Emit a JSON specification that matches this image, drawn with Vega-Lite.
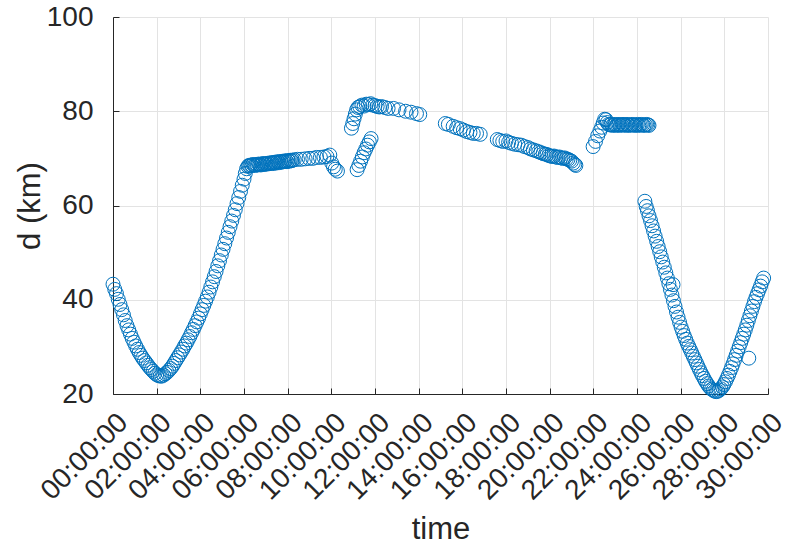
{
  "$schema": "https://vega.github.io/schema/vega-lite/v6.json",
  "autosize": {"type": "none"},
  "padding": {"left": 113, "top": 17, "right": 20, "bottom": 156},
  "width": 655,
  "height": 377,
  "background": "white",
  "config": {
    "view": {"stroke": null},
    "font": "Liberation Sans",
    "axis": {
      "domainColor": "#262626",
      "domainWidth": 1,
      "tickColor": "#262626",
      "tickSize": -6,
      "tickWidth": 1,
      "gridColor": "#e3e3e3",
      "gridWidth": 1,
      "labelColor": "#262626",
      "titleColor": "#262626",
      "labelFont": "Liberation Sans",
      "titleFont": "Liberation Sans",
      "labelFontSize": 28,
      "titleFontSize": 31,
      "titleFontWeight": "normal",
      "labelOverlap": false,
      "labelBound": false,
      "labelFlush": false
    }
  },
  "data": {
    "values": [
      {"time": 0.00, "d": 43.3}, {"time": 0.08, "d": 42.2}, {"time": 0.16, "d": 41.3}, {"time": 0.24, "d": 40.1},
      {"time": 0.32, "d": 39.0}, {"time": 0.40, "d": 37.9}, {"time": 0.48, "d": 36.8}, {"time": 0.56, "d": 35.6},
      {"time": 0.64, "d": 34.5}, {"time": 0.72, "d": 33.6}, {"time": 0.80, "d": 32.7}, {"time": 0.88, "d": 31.8},
      {"time": 0.96, "d": 31.0}, {"time": 1.04, "d": 30.2}, {"time": 1.12, "d": 29.5}, {"time": 1.20, "d": 28.8},
      {"time": 1.28, "d": 28.2}, {"time": 1.36, "d": 27.6}, {"time": 1.44, "d": 27.1}, {"time": 1.52, "d": 26.6},
      {"time": 1.60, "d": 26.1}, {"time": 1.68, "d": 25.6}, {"time": 1.76, "d": 25.2}, {"time": 1.84, "d": 24.8},
      {"time": 1.92, "d": 24.4}, {"time": 2.00, "d": 24.1}, {"time": 2.08, "d": 23.9}, {"time": 2.16, "d": 23.8},
      {"time": 2.24, "d": 23.8}, {"time": 2.32, "d": 24.0}, {"time": 2.40, "d": 24.3}, {"time": 2.48, "d": 24.6},
      {"time": 2.56, "d": 25.0}, {"time": 2.64, "d": 25.4}, {"time": 2.72, "d": 25.9}, {"time": 2.80, "d": 26.5},
      {"time": 2.88, "d": 27.1}, {"time": 2.96, "d": 27.7}, {"time": 3.04, "d": 28.3}, {"time": 3.12, "d": 28.9},
      {"time": 3.20, "d": 29.5}, {"time": 3.28, "d": 30.2}, {"time": 3.36, "d": 30.8}, {"time": 3.44, "d": 31.5},
      {"time": 3.52, "d": 32.2}, {"time": 3.60, "d": 33.0}, {"time": 3.68, "d": 33.7}, {"time": 3.76, "d": 34.5},
      {"time": 3.84, "d": 35.3}, {"time": 3.92, "d": 36.1}, {"time": 4.00, "d": 37.0}, {"time": 4.08, "d": 37.9},
      {"time": 4.16, "d": 38.8}, {"time": 4.24, "d": 39.7}, {"time": 4.32, "d": 40.6}, {"time": 4.40, "d": 41.6},
      {"time": 4.48, "d": 42.7}, {"time": 4.56, "d": 43.8}, {"time": 4.64, "d": 44.9}, {"time": 4.72, "d": 46.0},
      {"time": 4.80, "d": 47.2}, {"time": 4.88, "d": 48.3}, {"time": 4.96, "d": 49.5}, {"time": 5.04, "d": 50.7},
      {"time": 5.12, "d": 51.9}, {"time": 5.20, "d": 53.1}, {"time": 5.28, "d": 54.3}, {"time": 5.36, "d": 55.5},
      {"time": 5.44, "d": 56.7}, {"time": 5.52, "d": 57.9}, {"time": 5.60, "d": 59.1}, {"time": 5.68, "d": 60.4},
      {"time": 5.76, "d": 61.7}, {"time": 5.84, "d": 63.0}, {"time": 5.92, "d": 64.3}, {"time": 6.00, "d": 65.6},
      {"time": 6.06, "d": 66.8}, {"time": 6.12, "d": 67.8}, {"time": 6.18, "d": 68.3},
      {"time": 6.22, "d": 68.5}, {"time": 6.27, "d": 68.4}, {"time": 6.32, "d": 68.6}, {"time": 6.37, "d": 68.5},
      {"time": 6.42, "d": 68.7}, {"time": 6.47, "d": 68.6}, {"time": 6.52, "d": 68.5}, {"time": 6.57, "d": 68.7},
      {"time": 6.62, "d": 68.6}, {"time": 6.67, "d": 68.8}, {"time": 6.72, "d": 68.7}, {"time": 6.77, "d": 68.6},
      {"time": 6.82, "d": 68.8}, {"time": 6.87, "d": 68.9}, {"time": 6.92, "d": 68.7}, {"time": 6.97, "d": 68.8},
      {"time": 7.02, "d": 68.9}, {"time": 7.07, "d": 68.8}, {"time": 7.12, "d": 69.0}, {"time": 7.17, "d": 68.9},
      {"time": 7.22, "d": 69.0}, {"time": 7.27, "d": 69.1}, {"time": 7.32, "d": 68.9}, {"time": 7.37, "d": 69.1},
      {"time": 7.42, "d": 69.2}, {"time": 7.47, "d": 69.0}, {"time": 7.52, "d": 69.2}, {"time": 7.57, "d": 69.3},
      {"time": 7.62, "d": 69.1}, {"time": 7.67, "d": 69.3}, {"time": 7.72, "d": 69.2}, {"time": 7.77, "d": 69.4},
      {"time": 7.82, "d": 69.3}, {"time": 7.87, "d": 69.4}, {"time": 7.92, "d": 69.5}, {"time": 7.97, "d": 69.3},
      {"time": 8.02, "d": 69.5}, {"time": 8.07, "d": 69.4}, {"time": 8.12, "d": 69.6}, {"time": 8.17, "d": 69.5},
      {"time": 8.22, "d": 69.6}, {"time": 8.30, "d": 69.7}, {"time": 8.45, "d": 69.8}, {"time": 8.62, "d": 69.8},
      {"time": 8.80, "d": 69.9}, {"time": 8.98, "d": 70.0}, {"time": 9.15, "d": 70.0}, {"time": 9.32, "d": 70.2},
      {"time": 9.50, "d": 70.2}, {"time": 9.66, "d": 70.3}, {"time": 9.80, "d": 70.4}, {"time": 9.93, "d": 70.7},
      {"time": 10.02, "d": 69.0}, {"time": 10.10, "d": 68.2}, {"time": 10.18, "d": 67.7}, {"time": 10.28, "d": 67.3},
      {"time": 10.92, "d": 76.4}, {"time": 10.98, "d": 77.4}, {"time": 11.04, "d": 78.4}, {"time": 11.10, "d": 79.4},
      {"time": 11.16, "d": 80.3}, {"time": 11.22, "d": 80.8}, {"time": 11.30, "d": 81.0}, {"time": 11.40, "d": 81.3},
      {"time": 11.50, "d": 81.1}, {"time": 11.60, "d": 81.5}, {"time": 11.70, "d": 81.4}, {"time": 11.80, "d": 81.6},
      {"time": 11.90, "d": 81.3}, {"time": 12.00, "d": 81.2}, {"time": 12.10, "d": 81.0}, {"time": 12.20, "d": 80.9},
      {"time": 12.30, "d": 81.0}, {"time": 12.45, "d": 80.8}, {"time": 12.60, "d": 80.6}, {"time": 12.85, "d": 80.6},
      {"time": 13.10, "d": 80.3}, {"time": 13.40, "d": 80.0}, {"time": 13.65, "d": 79.8}, {"time": 13.90, "d": 79.5},
      {"time": 14.05, "d": 79.3},
      {"time": 11.18, "d": 67.6}, {"time": 11.26, "d": 68.5}, {"time": 11.34, "d": 69.4}, {"time": 11.42, "d": 70.3},
      {"time": 11.50, "d": 71.2}, {"time": 11.58, "d": 72.0}, {"time": 11.66, "d": 72.8}, {"time": 11.74, "d": 73.5},
      {"time": 11.82, "d": 74.2},
      {"time": 15.22, "d": 77.4}, {"time": 15.36, "d": 77.2}, {"time": 15.58, "d": 76.8}, {"time": 15.74, "d": 76.5},
      {"time": 15.90, "d": 76.3}, {"time": 16.05, "d": 76.0}, {"time": 16.20, "d": 75.7}, {"time": 16.35, "d": 75.5},
      {"time": 16.50, "d": 75.3}, {"time": 16.65, "d": 75.3}, {"time": 16.82, "d": 75.1},
      {"time": 17.60, "d": 74.0}, {"time": 17.72, "d": 73.8}, {"time": 17.85, "d": 73.6}, {"time": 18.00, "d": 73.7},
      {"time": 18.12, "d": 73.4}, {"time": 18.25, "d": 73.2}, {"time": 18.40, "d": 73.0}, {"time": 18.55, "d": 72.9},
      {"time": 18.70, "d": 72.8}, {"time": 18.85, "d": 72.5}, {"time": 19.00, "d": 72.3}, {"time": 19.12, "d": 72.0},
      {"time": 19.25, "d": 71.8}, {"time": 19.38, "d": 71.6}, {"time": 19.50, "d": 71.4}, {"time": 19.60, "d": 71.2},
      {"time": 19.70, "d": 71.0}, {"time": 19.80, "d": 70.9}, {"time": 19.88, "d": 70.8}, {"time": 19.96, "d": 70.6},
      {"time": 20.04, "d": 70.5}, {"time": 20.12, "d": 70.4}, {"time": 20.20, "d": 70.5}, {"time": 20.28, "d": 70.3},
      {"time": 20.36, "d": 70.2}, {"time": 20.44, "d": 70.3}, {"time": 20.52, "d": 70.1}, {"time": 20.60, "d": 70.0},
      {"time": 20.68, "d": 70.1}, {"time": 20.76, "d": 69.9}, {"time": 20.84, "d": 69.8}, {"time": 20.92, "d": 69.6},
      {"time": 21.00, "d": 69.4}, {"time": 21.08, "d": 69.0}, {"time": 21.15, "d": 68.7}, {"time": 21.20, "d": 68.5},
      {"time": 21.99, "d": 72.5}, {"time": 22.10, "d": 73.6}, {"time": 22.20, "d": 74.8}, {"time": 22.30, "d": 75.8},
      {"time": 22.38, "d": 76.6}, {"time": 22.45, "d": 77.5}, {"time": 22.52, "d": 78.3}, {"time": 22.58, "d": 78.2},
      {"time": 22.64, "d": 77.6}, {"time": 22.70, "d": 77.2}, {"time": 22.76, "d": 77.1}, {"time": 22.82, "d": 77.2},
      {"time": 22.88, "d": 77.0}, {"time": 22.94, "d": 77.1}, {"time": 23.00, "d": 77.2}, {"time": 23.06, "d": 77.0},
      {"time": 23.12, "d": 77.1}, {"time": 23.18, "d": 77.2}, {"time": 23.24, "d": 77.0}, {"time": 23.30, "d": 77.1},
      {"time": 23.36, "d": 77.2}, {"time": 23.42, "d": 77.1}, {"time": 23.48, "d": 77.0}, {"time": 23.54, "d": 77.2},
      {"time": 23.60, "d": 77.1}, {"time": 23.66, "d": 77.0}, {"time": 23.72, "d": 77.1}, {"time": 23.78, "d": 77.2},
      {"time": 23.84, "d": 77.1}, {"time": 23.90, "d": 77.0}, {"time": 23.96, "d": 77.1}, {"time": 24.02, "d": 77.2},
      {"time": 24.08, "d": 77.0}, {"time": 24.14, "d": 77.1}, {"time": 24.20, "d": 77.2}, {"time": 24.26, "d": 77.1},
      {"time": 24.32, "d": 77.0}, {"time": 24.38, "d": 77.1}, {"time": 24.44, "d": 77.2}, {"time": 24.50, "d": 77.1},
      {"time": 24.55, "d": 77.0},
      {"time": 24.36, "d": 60.9}, {"time": 24.42, "d": 59.8}, {"time": 24.48, "d": 58.9}, {"time": 24.55, "d": 57.8},
      {"time": 24.62, "d": 56.8}, {"time": 24.69, "d": 55.7}, {"time": 24.76, "d": 54.6}, {"time": 24.83, "d": 53.5},
      {"time": 24.90, "d": 52.4}, {"time": 24.97, "d": 51.3}, {"time": 25.04, "d": 50.2}, {"time": 25.11, "d": 49.1},
      {"time": 25.18, "d": 48.0}, {"time": 25.25, "d": 46.9}, {"time": 25.32, "d": 45.7}, {"time": 25.39, "d": 44.6},
      {"time": 25.46, "d": 43.4}, {"time": 25.53, "d": 42.2}, {"time": 25.60, "d": 41.0}, {"time": 25.67, "d": 39.8},
      {"time": 25.74, "d": 38.6}, {"time": 25.81, "d": 37.4}, {"time": 25.88, "d": 36.3}, {"time": 25.95, "d": 35.2},
      {"time": 26.02, "d": 34.2}, {"time": 26.09, "d": 33.3}, {"time": 26.16, "d": 32.4}, {"time": 26.23, "d": 31.6},
      {"time": 26.30, "d": 30.8}, {"time": 26.37, "d": 30.1}, {"time": 26.44, "d": 29.4}, {"time": 26.51, "d": 28.7},
      {"time": 26.58, "d": 28.0}, {"time": 26.65, "d": 27.3}, {"time": 26.72, "d": 26.6}, {"time": 26.79, "d": 25.9},
      {"time": 26.86, "d": 25.2}, {"time": 26.93, "d": 24.5}, {"time": 27.00, "d": 23.9}, {"time": 27.07, "d": 23.3},
      {"time": 27.14, "d": 22.7}, {"time": 27.21, "d": 22.2}, {"time": 27.28, "d": 21.7}, {"time": 27.35, "d": 21.3},
      {"time": 27.42, "d": 21.0}, {"time": 27.49, "d": 20.8}, {"time": 27.56, "d": 20.6}, {"time": 27.63, "d": 20.5},
      {"time": 27.70, "d": 20.6}, {"time": 27.77, "d": 20.8}, {"time": 27.84, "d": 21.1}, {"time": 27.91, "d": 21.5},
      {"time": 27.98, "d": 22.0}, {"time": 28.05, "d": 22.6}, {"time": 28.12, "d": 23.3}, {"time": 28.19, "d": 24.0},
      {"time": 28.26, "d": 24.8}, {"time": 28.33, "d": 25.6}, {"time": 28.40, "d": 26.4}, {"time": 28.47, "d": 27.3},
      {"time": 28.54, "d": 28.2}, {"time": 28.61, "d": 29.1}, {"time": 28.68, "d": 30.0}, {"time": 28.75, "d": 30.9},
      {"time": 28.82, "d": 31.8}, {"time": 28.89, "d": 32.7}, {"time": 28.96, "d": 33.6}, {"time": 29.03, "d": 34.6},
      {"time": 29.10, "d": 35.6}, {"time": 29.17, "d": 36.6}, {"time": 29.24, "d": 37.6}, {"time": 29.31, "d": 38.6},
      {"time": 29.38, "d": 39.6}, {"time": 29.45, "d": 40.5}, {"time": 29.52, "d": 41.3}, {"time": 29.59, "d": 42.1},
      {"time": 29.66, "d": 42.9}, {"time": 29.73, "d": 43.8}, {"time": 29.80, "d": 44.6},
      {"time": 25.65, "d": 43.2}, {"time": 29.12, "d": 27.6}
    ]
  },
  "mark": {"type": "point", "shape": "circle", "filled": false, "stroke": "#0072BD", "strokeWidth": 1, "size": 195, "opacity": 1, "clip": false},
  "encoding": {
    "x": {
      "field": "time",
      "type": "quantitative",
      "scale": {"domain": [0, 30], "nice": false, "zero": false},
      "axis": {
        "title": "time",
        "values": [0, 2, 4, 6, 8, 10, 12, 14, 16, 18, 20, 22, 24, 26, 28, 30],
        "labelExpr": "(datum.value < 10 ? '0' : '') + datum.value + ':00:00'",
        "labelAngle": -45,
        "labelAlign": "right",
        "labelBaseline": "middle",
        "labelPadding": 30,
        "labelOffset": 10,
        "titlePadding": 10
      }
    },
    "y": {
      "field": "d",
      "type": "quantitative",
      "scale": {"domain": [20, 100], "nice": false, "zero": false},
      "axis": {
        "title": "d (km)",
        "values": [20, 40, 60, 80, 100],
        "labelPadding": 26,
        "titlePadding": 0
      }
    }
  }
}
